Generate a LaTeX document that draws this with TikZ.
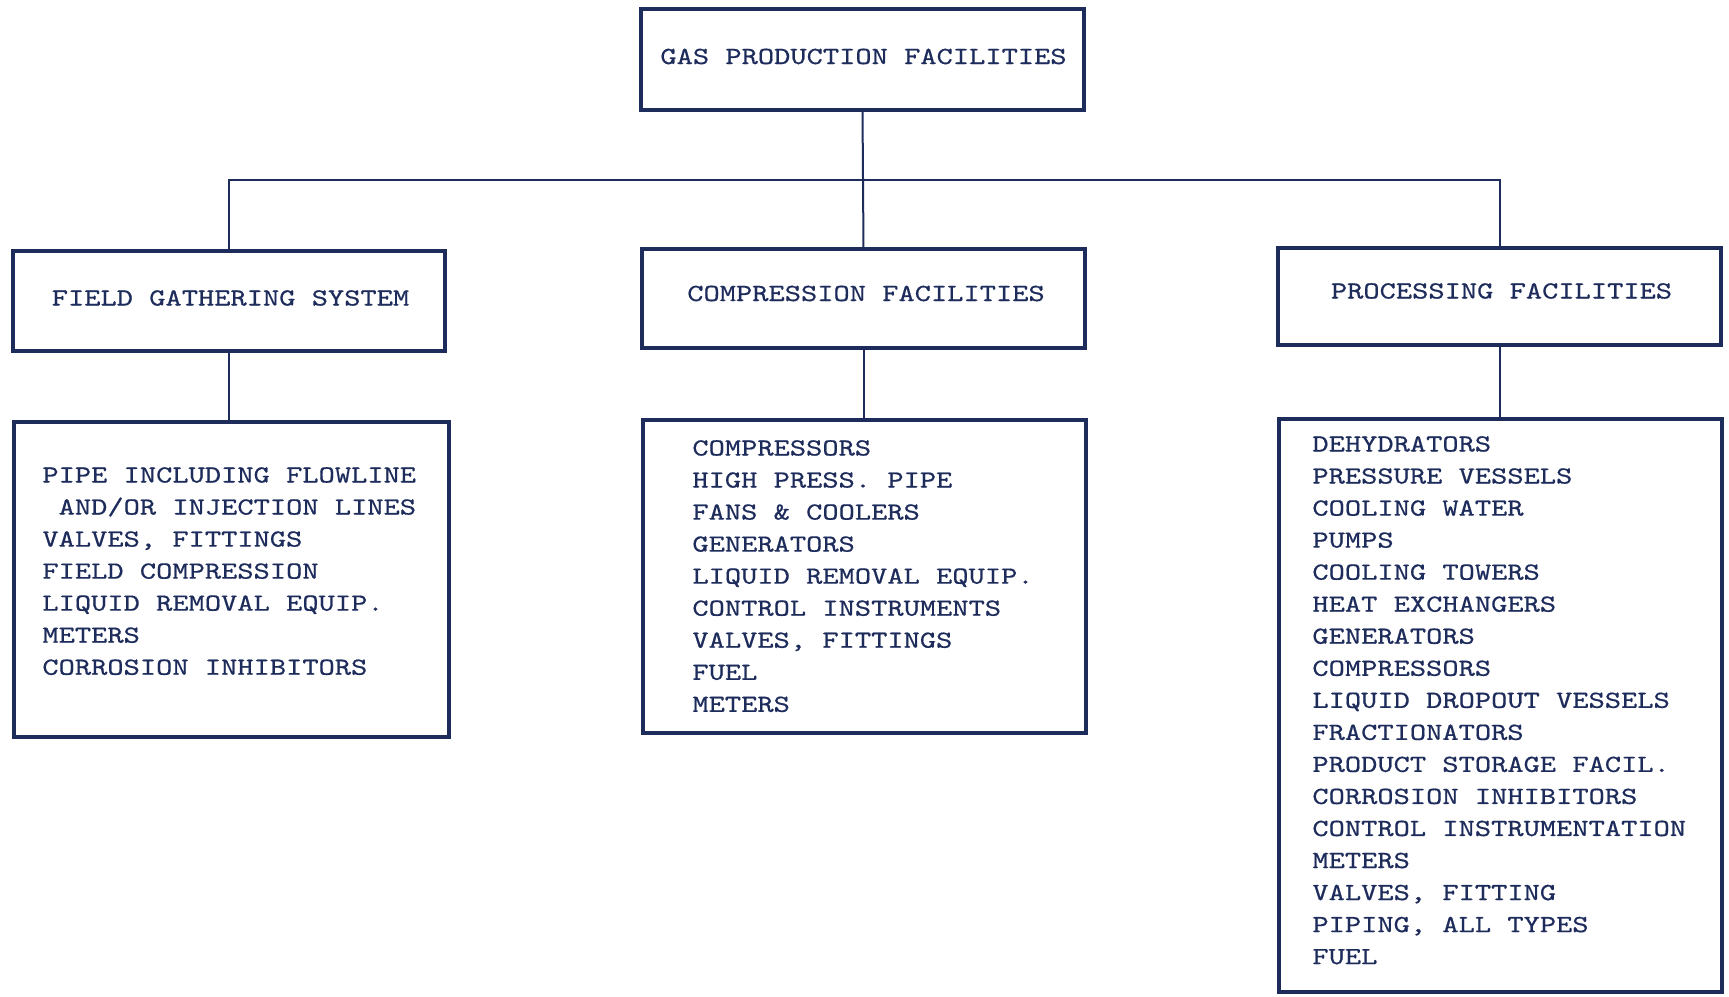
\documentclass[tikz,border=0pt]{standalone}
\usepackage{fontspec}
\newfontfamily\twfam{lmmono10-regular.otf}[FakeStretch=1.258,FakeBold=0.6]
\definecolor{ink}{RGB}{30,44,92}
\newcommand{\twfont}{\twfam\fontsize{12.3}{16.02}\selectfont}
\newcommand{\twbox}[1]{{\twfont #1}}
\newcommand{\twlist}[1]{{\twfont\begin{tabular}[t]{@{}l@{}}#1\end{tabular}}}
\begin{document}
\begin{tikzpicture}[x=0.5pt,y=-0.5pt,
  boxline/.style={draw=ink,line width=1.6pt,inner sep=0pt,outer sep=0pt},
  link/.style={draw=ink,line width=1pt},
  head/.style={text=ink,inner sep=0pt,anchor=base},
  lst/.style={text=ink,inner sep=0pt,anchor=base west}]
\useasboundingbox (0,0) rectangle (1729,996);
% boxes
\node[boxline,minimum width=221.5pt,minimum height=50.5pt] (top) at (862.5,59.5) {};
\node[boxline,minimum width=216pt,minimum height=50pt] (fgs) at (229,301) {};
\node[boxline,minimum width=221.5pt,minimum height=49.5pt] (comp) at (863.5,298.5) {};
\node[boxline,minimum width=221.5pt,minimum height=48.5pt] (proc) at (1499.5,296.5) {};
\node[boxline,minimum width=217.5pt,minimum height=157.5pt] (fgsl) at (231.5,579.5) {};
\node[boxline,minimum width=221.5pt,minimum height=156.5pt] (compl) at (864.5,576.5) {};
\node[boxline,minimum width=221.5pt,minimum height=286.5pt] (procl) at (1500.5,705.5) {};
% connectors
\coordinate (bus) at (863,180);
\draw[link] (top.south) -- (comp.north);
\draw[link] (fgs.north) |- (bus) -| (proc.north);
\draw[link] (fgs.south) -- (fgs.south |- fgsl.north);
\draw[link] (comp.south) -- (comp.south |- compl.north);
\draw[link] (proc.south) -- (proc.south |- procl.north);
% headings
\node[head] (ttop) at (863.5,64) {\twbox{GAS PRODUCTION FACILITIES}};
\node[head] (tfgs) at (230.5,305.5) {\twbox{FIELD GATHERING SYSTEM}};
\node[head] (tcomp) at (866,301) {\twbox{COMPRESSION FACILITIES}};
\node[head] (tproc) at (1501.5,298.5) {\twbox{PROCESSING FACILITIES}};
% lists
\node[lst] (lfgs) at (42,482.5) {\twlist{PIPE INCLUDING FLOWLINE\\
\phantom{A}AND/OR INJECTION LINES\\
VALVES, FITTINGS\\
FIELD COMPRESSION\\
LIQUID REMOVAL EQUIP.\\
METERS\\
CORROSION INHIBITORS}};
\node[lst] (lcomp) at (692,455.5) {\twlist{COMPRESSORS\\
HIGH PRESS. PIPE\\
FANS \& COOLERS\\
GENERATORS\\
LIQUID REMOVAL EQUIP.\\
CONTROL INSTRUMENTS\\
VALVES, FITTINGS\\
FUEL\\
METERS}};
\node[lst] (lproc) at (1312,451.5) {\twlist{DEHYDRATORS\\
PRESSURE VESSELS\\
COOLING WATER\\
PUMPS\\
COOLING TOWERS\\
HEAT EXCHANGERS\\
GENERATORS\\
COMPRESSORS\\
LIQUID DROPOUT VESSELS\\
FRACTIONATORS\\
PRODUCT STORAGE FACIL.\\
CORROSION INHIBITORS\\
CONTROL INSTRUMENTATION\\
METERS\\
VALVES, FITTING\\
PIPING, ALL TYPES\\
FUEL}};
\end{tikzpicture}
\end{document}
